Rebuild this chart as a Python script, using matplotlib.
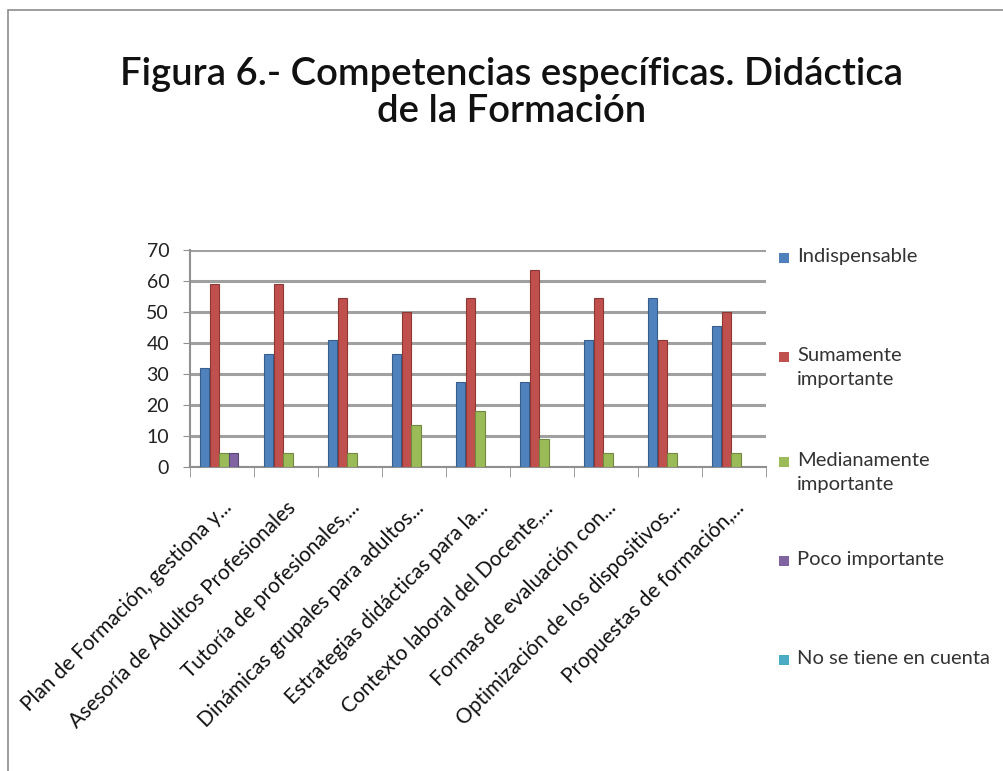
import matplotlib
matplotlib.use("Agg")
import matplotlib.pyplot as plt
from matplotlib.patches import Rectangle
import numpy as np

categories = [
    "Plan de Formación, gestiona y...",
    "Asesoría de Adultos Profesionales",
    "Tutoría de profesionales,...",
    "Dinámicas grupales para adultos...",
    "Estrategias didácticas para la...",
    "Contexto laboral del Docente,...",
    "Formas de evaluación con...",
    "Optimización de los dispositivos...",
    "Propuestas de formación,...",
]
series_names = ["Indispensable", "Sumamente\nimportante", "Medianamente\nimportante",
                "Poco importante", "No se tiene en cuenta"]
indispensable = [31.8, 36.4, 40.9, 36.4, 27.3, 27.3, 40.9, 54.5, 45.5]
sumamente = [59.1, 59.1, 54.5, 50.0, 54.5, 63.6, 54.5, 40.9, 50.0]
medianamente = [4.5, 4.5, 4.5, 13.6, 18.2, 9.1, 4.5, 4.5, 4.5]
poco = [4.5, 0, 0, 0, 0, 0, 0, 0, 0]
no_cuenta = [0, 0, 0, 0, 0, 0, 0, 0, 0]
yticks = [0, 10, 20, 30, 40, 50, 60, 70]

series = [indispensable, sumamente, medianamente, poco, no_cuenta]
colors = ["#4F81BD", "#C0504D", "#9BBB59", "#8064A2", "#4BACC6"]
edges = ["#385D8A", "#8C3836", "#71893F", "#5C4776", "#357D91"]

plt.rcParams['font.family'] = ['Lato', 'DejaVu Sans']

W, H = 1004, 771
fig = plt.figure(figsize=(W / 100, H / 100), dpi=100)

# outer chart frame
fig.patches.append(Rectangle((8 / W, -0.05), 1.2, (H - 10) / H + 0.05,
                             transform=fig.transFigure, fill=False,
                             edgecolor="#8c8c8c", linewidth=1.2))

fig.text(512 / W, 1 - 74 / H, "Figura 6.- Competencias específicas. Didáctica",
         ha="center", va="center", fontsize=27.5, fontweight="semibold", color="#111111")
fig.text(512 / W, 1 - 111 / H, "de la Formación",
         ha="center", va="center", fontsize=27.5, fontweight="semibold", color="#111111")

left, right = 190 / W, 766 / W
bottom, top = (H - 467) / H, (H - 250) / H
ax = fig.add_axes([left, bottom, right - left, top - bottom])

x = np.arange(len(categories))
bw = 0.15
offsets = (np.arange(5) - 1.8) * bw
for vals, c, ec, off in zip(series, colors, edges, offsets):
    ax.bar(x + off, vals, width=bw * 0.97, color=c, edgecolor=ec, linewidth=0.8,
           zorder=3)

ax.set_xlim(-0.5, len(categories) - 0.5)
ax.set_ylim(0, 70)
ax.set_yticks(yticks)
ax.set_yticklabels([str(v) for v in yticks], fontsize=14, color="#222222")
ax.yaxis.grid(True, color="#a0a0a0", linewidth=2.2, zorder=0)
ax.set_axisbelow(True)
for s in ["top", "right"]:
    ax.spines[s].set_visible(False)
ax.spines["left"].set_color("#909090")
ax.spines["bottom"].set_color("#909090")
ax.spines["left"].set_linewidth(1.5)
ax.spines["bottom"].set_linewidth(1.5)
ax.tick_params(axis="y", length=5, color="#909090", pad=10)
ax.set_xticks(np.arange(len(categories) + 1) - 0.5, minor=True)
ax.tick_params(axis="x", which="minor", length=7, color="#909090")
ax.set_xticks(x)
ax.set_xticklabels(categories, rotation=45, ha="right", rotation_mode="anchor",
                   fontsize=15, color="#111111")
ax.tick_params(axis="x", which="major", length=0, pad=22)

# legend (manual)
leg_y = [258, 357, 462, 561, 660]
for name, c, y in zip(series_names, colors, leg_y):
    fig.patches.append(Rectangle((779 / W, 1 - (y + 5) / H), 10 / W, 10 / H,
                                 transform=fig.transFigure, facecolor=c,
                                 edgecolor="none"))
    fig.text(797 / W, 1 - (y - 10) / H, name, ha="left", va="top",
             fontsize=14.5, color="#333333", linespacing=1.5)

fig.savefig("out.png", dpi=100)
